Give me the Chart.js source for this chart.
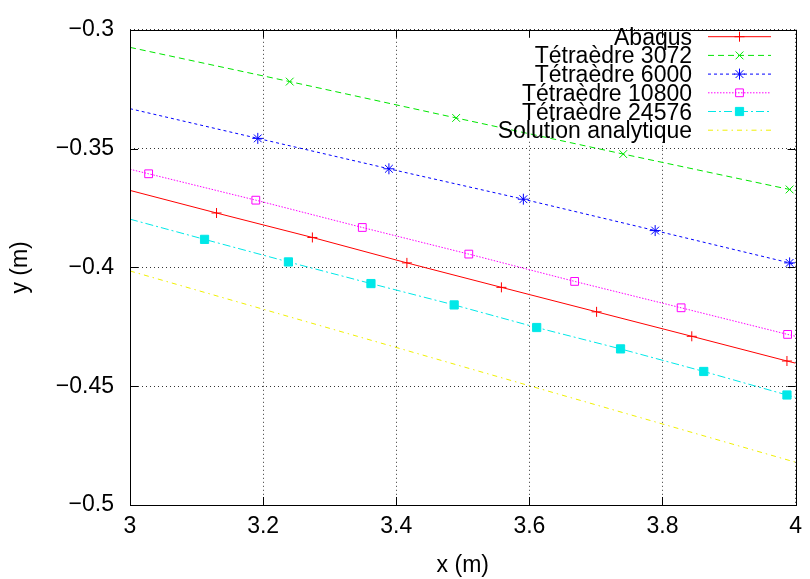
<!DOCTYPE html>
<html>
<head>
<meta charset="utf-8">
<script src="https://cdn.jsdelivr.net/npm/chart.js@4.4.0/dist/chart.umd.min.js"></script>
<style>
  html, body { margin: 0; padding: 0; background: #fff; }
  canvas { display: block; }
</style>
</head>
<body>
<canvas id="myChart" width="810" height="579"></canvas>
<script>
// tick labels
const xTicks = [3, 3.2, 3.4, 3.6, 3.8, 4];
const yTicks = [-0.5, -0.45, -0.4, -0.35, -0.3];

// series (first and last point = line ends, no marker)
const labels = ['Abaqus', 'Tétraèdre 3072', 'Tétraèdre 6000', 'Tétraèdre 10800', 'Tétraèdre 24576', 'Solution analytique'];

const abaqusX = [3, 3.130, 3.274, 3.416, 3.558, 3.701, 3.844, 3.987, 4];
const abaqusY = [-0.3676, -0.3771, -0.3874, -0.3981, -0.4084, -0.4187, -0.4290, -0.4394, -0.4403];

const t3072X = [3, 3.240, 3.490, 3.741, 3.991, 4];
const t3072Y = [-0.3074, -0.3218, -0.3371, -0.3523, -0.3672, -0.3677];

const t6000X = [3, 3.192, 3.389, 3.591, 3.789, 3.991, 4];
const t6000Y = [-0.3332, -0.3457, -0.3585, -0.3713, -0.3845, -0.3981, -0.3987];

const t10800X = [3, 3.028, 3.189, 3.349, 3.509, 3.668, 3.828, 3.988, 4];
const t10800Y = [-0.3587, -0.3606, -0.3717, -0.3832, -0.3944, -0.4059, -0.4170, -0.4282, -0.4290];

const t24576X = [3, 3.112, 3.238, 3.362, 3.487, 3.611, 3.737, 3.862, 3.987, 4];
const t24576Y = [-0.3797, -0.3882, -0.3977, -0.4068, -0.4158, -0.4253, -0.4343, -0.4438, -0.4537, -0.4547];

const analX = [3, 4];
const analY = [-0.4015, -0.4820];

const seriesX = [abaqusX, t3072X, t6000X, t10800X, t24576X, analX];
const seriesY = [abaqusY, t3072Y, t6000Y, t10800Y, t24576Y, analY];

// styles
const colors = ['#ff0000', '#00e600', '#0000ff', '#ff00ff', '#00e8e8', '#f0f000'];
const dashes = [[], [6, 4], [3, 3], [1.5, 1.5], [8, 3, 2, 3], [5, 4, 1.5, 4]];
const pointStyles = ['cross', 'crossRot', 'star', 'rect', 'rect', false];
const pointRadii = [5, 5.5, 5.5, 5.5, 5.8, 0];
const pointFills = [false, false, false, false, true, false];

const FONT = '"Liberation Sans", Arial, sans-serif';
const FS = 23;
Chart.defaults.font.family = FONT;
Chart.defaults.color = '#000';

const datasets = labels.map((label, i) => {
  const n = seriesX[i].length;
  return {
    label: label,
    data: seriesX[i].map((x, j) => ({ x: x, y: seriesY[i][j] })),
    showLine: true,
    borderColor: colors[i],
    borderWidth: 1,
    borderDash: dashes[i],
    tension: 0,
    pointStyle: pointStyles[i],
    pointRadius: ctx => (ctx.dataIndex === 0 || ctx.dataIndex === n - 1) ? 0 : pointRadii[i],
    pointHoverRadius: 0,
    pointBorderColor: colors[i],
    pointBorderWidth: 1,
    pointBackgroundColor: pointFills[i] ? colors[i] : 'rgba(0,0,0,0)'
  };
});

// white key area (grid is not drawn under the key), box, inward ticks, key
const frame = {
  id: 'frame',
  beforeDatasetsDraw(chart) {
    const { ctx, chartArea: a } = chart;
    ctx.save();
    ctx.fillStyle = '#fff';
    ctx.fillRect(488, a.top + 1, a.right - 488 - 1, 139 - a.top);
    ctx.restore();
  },
  afterDatasetsDraw(chart) {
    const { ctx, chartArea: a, scales } = chart;
    ctx.save();
    ctx.strokeStyle = '#000';
    ctx.lineWidth = 1;
    ctx.setLineDash([]);
    const L = 8;
    ctx.beginPath();
    xTicks.forEach(v => {
      const px = Math.round(scales.x.getPixelForValue(v)) + 0.5;
      ctx.moveTo(px, a.bottom); ctx.lineTo(px, a.bottom - L);
      ctx.moveTo(px, a.top); ctx.lineTo(px, a.top + L);
    });
    yTicks.forEach(v => {
      const py = Math.round(scales.y.getPixelForValue(v)) + 0.5;
      ctx.moveTo(a.left, py); ctx.lineTo(a.left + L, py);
      ctx.moveTo(a.right, py); ctx.lineTo(a.right - L, py);
    });
    ctx.stroke();
    ctx.strokeRect(Math.round(a.left) + 0.5, Math.round(a.top) + 0.5,
      Math.round(a.right - a.left), Math.round(a.bottom - a.top));

    // key
    const textRight = 692, lineL = 708, lineR = 771, row0 = 36.7, rowStep = 18.7;
    ctx.font = FS + 'px ' + FONT;
    ctx.textAlign = 'right';
    ctx.textBaseline = 'alphabetic';
    chart.data.datasets.forEach((ds, i) => {
      const y = row0 + i * rowStep;
      ctx.fillStyle = '#000';
      ctx.fillText(ds.label, textRight, y + 8);
      ctx.strokeStyle = colors[i];
      ctx.setLineDash(dashes[i]);
      ctx.beginPath();
      ctx.moveTo(lineL, y); ctx.lineTo(lineR, y);
      ctx.stroke();
      ctx.setLineDash([]);
      if (pointStyles[i]) {
        ctx.fillStyle = pointFills[i] ? colors[i] : 'rgba(0,0,0,0)';
        Chart.helpers.drawPoint(ctx, {
          pointStyle: pointStyles[i], radius: pointRadii[i], rotation: 0, borderWidth: 1
        }, (lineL + lineR) / 2, y);
      }
    });
    ctx.restore();
  }
};

const fmt = v => String(parseFloat(v.toFixed(2))).replace('-', '\u2212');

new Chart(document.getElementById('myChart').getContext('2d'), {
  type: 'scatter',
  data: { datasets: datasets },
  options: {
    responsive: false,
    animation: false,
    devicePixelRatio: 1,
    layout: { padding: { left: 0, top: 20, right: 12, bottom: 0 } },
    plugins: { legend: { display: false }, tooltip: { enabled: false } },
    scales: {
      x: {
        type: 'linear',
        min: 3, max: 4,
        afterBuildTicks: s => { s.ticks = xTicks.map(v => ({ value: v })); },
        afterFit: s => { s.height = 74; },
        ticks: { font: { size: FS }, color: '#000', padding: 8, maxRotation: 0, callback: v => fmt(v) },
        grid: { color: 'rgba(0,0,0,0.8)', lineWidth: 1, drawTicks: false },
        border: { display: false, dash: [1, 3] },
        title: { display: true, text: 'x (m)', font: { size: FS }, color: '#000', padding: { top: 0, bottom: 0 } }
      },
      y: {
        type: 'linear',
        min: -0.5, max: -0.3,
        afterBuildTicks: s => { s.ticks = yTicks.map(v => ({ value: v })); },
        afterFit: s => { s.width = 130; },
        ticks: { font: { size: FS }, color: '#000', padding: 16, callback: v => fmt(v) },
        grid: { color: 'rgba(0,0,0,0.8)', lineWidth: 1, drawTicks: false },
        border: { display: false, dash: [1, 3] },
        title: { display: true, text: 'y (m)', font: { size: FS }, color: '#000', padding: { top: 7, bottom: 0 } }
      }
    }
  },
  plugins: [frame]
});
</script>
</body>
</html>
